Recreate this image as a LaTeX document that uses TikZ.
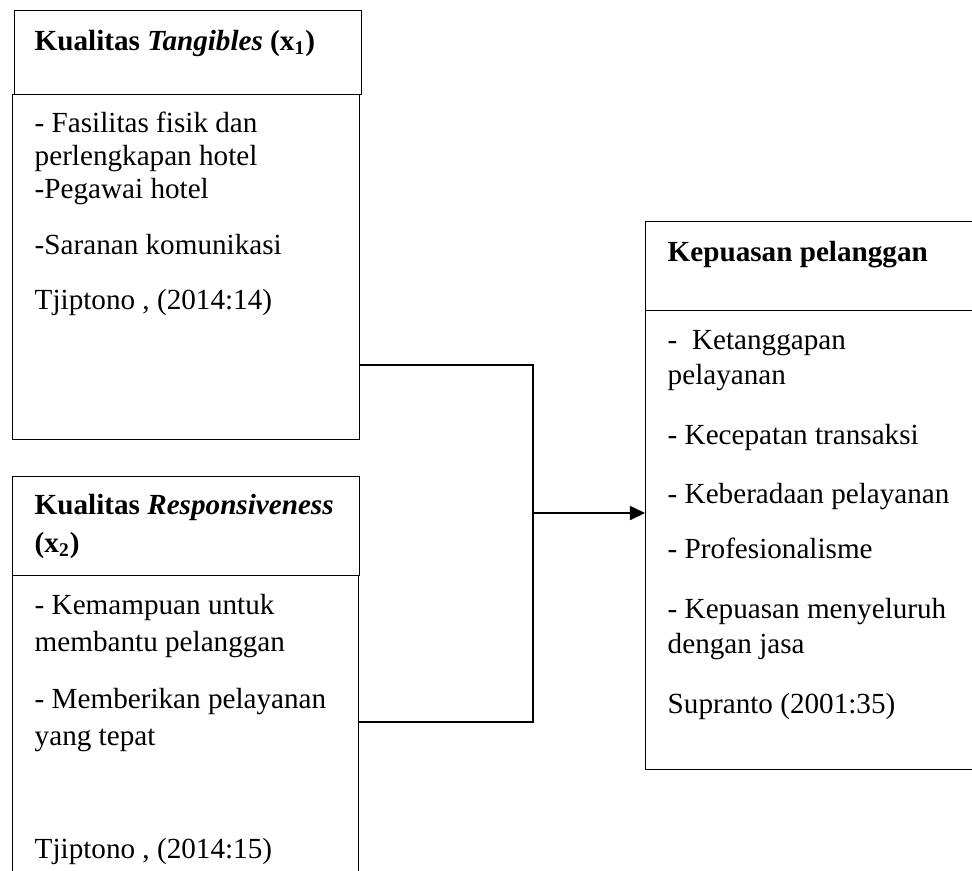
\documentclass[tikz,border=0pt]{standalone}
\usepackage{fontspec}
\setmainfont{Liberation Serif}
\usetikzlibrary{arrows.meta, positioning}
\newcommand{\px}{0.4115pt}
\tikzset{
box/.style={draw, rectangle, line width=0.6pt, inner sep=0pt, anchor=north west}, % the frames
txt/.style={anchor=base west, inner sep=0pt, font=\fontsize{12}{14.5}\selectfont}, % one text line
}

\begin{document}
\begin{tikzpicture}[x=0.4115pt, y=-0.4115pt, >={Triangle[length=6.2pt,width=5.8pt]}, line width=0.6pt]
\useasboundingbox (0,0) rectangle (972,870);
\clip (0,0) rectangle (972,870);
% frames
\node[box, minimum width=347*\px, minimum height=84*\px] (tgH) at (14,10) {};
\node[box, minimum width=347*\px, minimum height=345*\px] (tgB) at (12,94) {};
\node[box, minimum width=347*\px, minimum height=99*\px] (rsH) at (12,476) {};
\node[box, minimum width=346*\px, minimum height=330*\px] (rsB) at (12,575) {};
\node[box, minimum width=360*\px, minimum height=89*\px] (kpH) at (645,221) {};
\node[box, minimum width=360*\px, minimum height=459*\px] (kpB) at (645,310) {};
% texts
\node[txt] (tg0) at (34,50) {\textbf{Kualitas \textit{Tangibles} (x\textsubscript{1})}};
\node[txt] (tg1) at (34,132) {- Fasilitas fisik dan};
\node[txt] (tg2) at (34,165) {perlengkapan hotel};
\node[txt] (tg3) at (34,198) {-Pegawai hotel};
\node[txt] (tg4) at (34,254) {-Saranan komunikasi};
\node[txt] (tg5) at (34,309) {Tjiptono , (2014:14)};
\node[txt] (rs0) at (34,514) {\textbf{Kualitas \textit{Responsiveness}}};
\node[txt] (rs1) at (34,552) {\textbf{(x\textsubscript{2})}};
\node[txt] (rs2) at (34,614) {- Kemampuan untuk};
\node[txt] (rs3) at (34,651) {membantu pelanggan};
\node[txt] (rs4) at (34,708) {- Memberikan pelayanan};
\node[txt] (rs5) at (34,745) {yang tepat};
\node[txt] (rs6) at (34,858) {Tjiptono , (2014:15)};
\node[txt] (kp0) at (667,261) {\textbf{Kepuasan pelanggan}};
\node[txt] (kp1) at (667,349) {-\ \ Ketanggapan};
\node[txt] (kp2) at (667,384) {pelayanan};
\node[txt] (kp3) at (667,444) {- Kecepatan transaksi};
\node[txt] (kp4) at (667,503) {- Keberadaan pelayanan};
\node[txt] (kp5) at (667,558) {- Profesionalisme};
\node[txt] (kp6) at (667,618) {- Kepuasan menyeluruh};
\node[txt] (kp7) at (667,653) {dengan jasa};
\node[txt] (kp8) at (667,713) {Supranto (2001:35)};
% connectors
\coordinate (j1) at (533,365);
\coordinate (j2) at (533,722);
\coordinate (jm) at (533,513);
\draw (tgB.east |- j1) -- (j1) -- (j2) -- (rsB.east |- j2);
\draw[->] (jm) -- (kpB.west |- jm);
\end{tikzpicture}
\end{document}
